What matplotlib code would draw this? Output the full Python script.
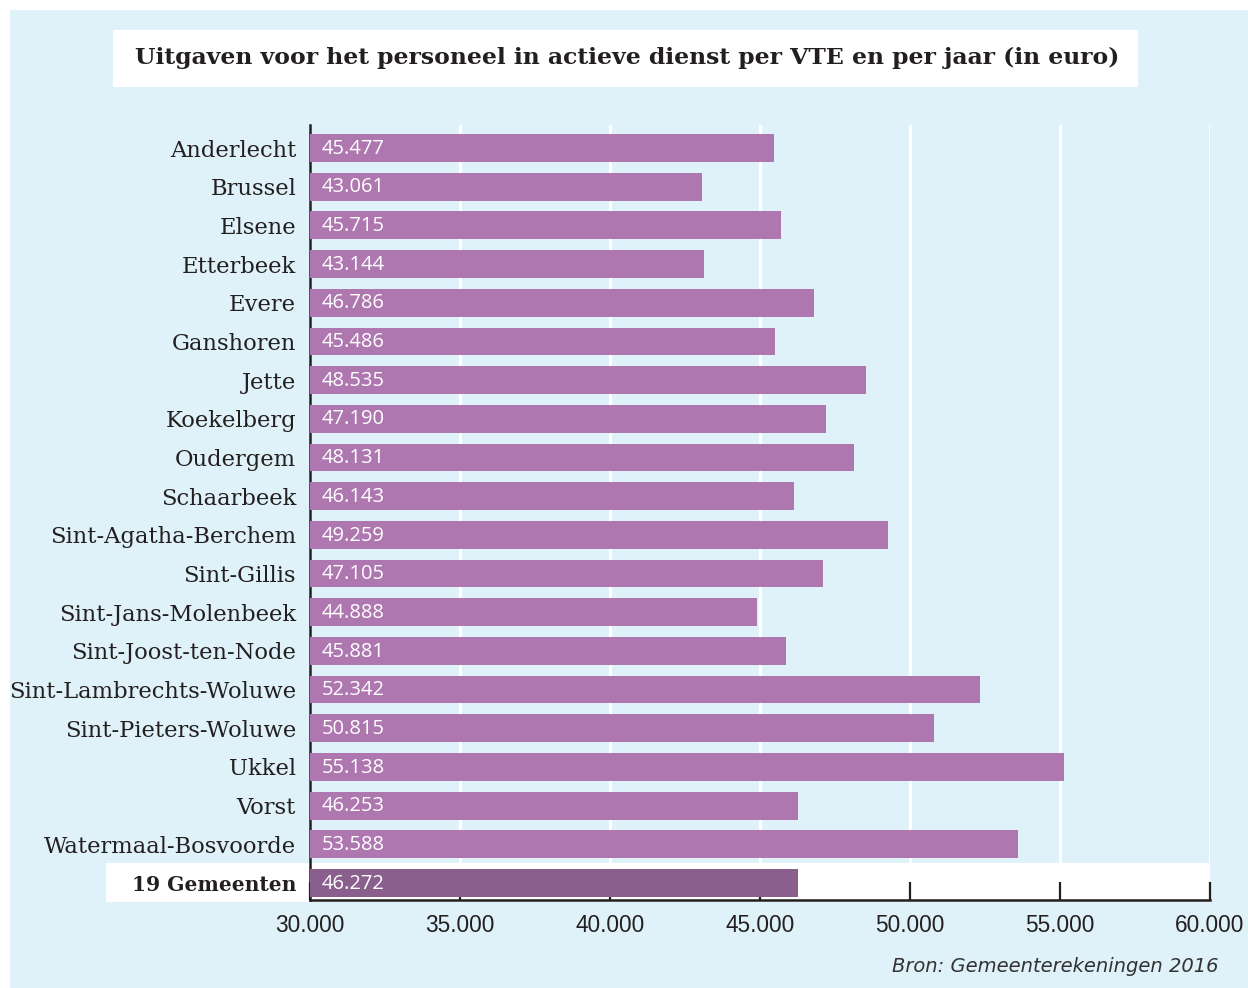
import matplotlib.pyplot as plt
from matplotlib.patches import Rectangle

gemeenten = ["Anderlecht", "Brussel", "Elsene", "Etterbeek", "Evere", "Ganshoren",
             "Jette", "Koekelberg", "Oudergem", "Schaarbeek", "Sint-Agatha-Berchem",
             "Sint-Gillis", "Sint-Jans-Molenbeek", "Sint-Joost-ten-Node",
             "Sint-Lambrechts-Woluwe", "Sint-Pieters-Woluwe", "Ukkel", "Vorst",
             "Watermaal-Bosvoorde", "19 Gemeenten"]
uitgaven = [45477, 43061, 45715, 43144, 46786, 45486, 48535, 47190, 48131, 46143,
            49259, 47105, 44888, 45881, 52342, 50815, 55138, 46253, 53588, 46272]
xticks = [30000, 35000, 40000, 45000, 50000, 55000, 60000]

W, H = 1248, 988
blue = "#dff1f9"
paars = "#ae77b0"
paars_donker = "#8a5f8e"
serif = "DejaVu Serif"
sans = "Open Sans"

fig = plt.figure(figsize=(W / 100, H / 100), dpi=100)
fig.patch.set_facecolor("white")

# lichtblauw paneel
fig.patches.append(Rectangle((10 / W, 0), 1 - 10 / W, 1 - 10 / H, transform=fig.transFigure,
                             facecolor=blue, edgecolor="none", zorder=-2))
# titel kader
fig.patches.append(Rectangle((113 / W, 1 - 87 / H), (1138 - 113) / W, 57 / H,
                             transform=fig.transFigure, facecolor="white",
                             edgecolor="none", zorder=-1))
fig.text(627 / W, 1 - 58 / H,
         "Uitgaven voor het personeel in actieve dienst per VTE en per jaar (in euro)",
         ha="center", va="center", fontsize=16.9, fontweight="bold", family=serif,
         color="#231f20", zorder=2)

ax = fig.add_axes([310 / W, 1 - 900 / H, 900 / W, 775 / H])
ax.set_facecolor("none")

n = len(gemeenten)
ypos = list(range(n))
kleuren = [paars] * (n - 1) + [paars_donker]

# witte band voor het gemiddelde
ax.add_patch(Rectangle((-(310 - 106) / 900, n - 1 - 0.52), 1 + (310 - 106) / 900, 1.0,
                       transform=ax.get_yaxis_transform(), facecolor="white",
                       edgecolor="none", clip_on=False, zorder=0.5))

ax.barh(ypos, [v - 30000 for v in uitgaven], left=30000, height=0.72,
        color=kleuren, zorder=3)

for y, v in zip(ypos, uitgaven):
    ax.annotate(f"{v:,}".replace(",", "."), xy=(30000, y), xytext=(8.5, -0.5),
                textcoords="offset points", ha="left", va="center",
                color="white", fontsize=14.5, family=sans, zorder=4)

ax.set_xlim(30000, 60000)
ax.set_ylim(n - 1 + 0.44, -0.595)

ax.set_xticks(xticks)
ax.set_xticklabels([f"{t:,}".replace(",", ".") for t in xticks],
                   fontsize=16.3, family="Liberation Sans", color="#231f20")
ax.tick_params(axis="x", direction="in", length=13, width=1.6, pad=10, color="#231f20")
ax.set_yticks(ypos)
ax.set_yticklabels(gemeenten, fontsize=16.3, family=serif, color="#231f20")
laatste = ax.get_yticklabels()[-1]
laatste.set_fontweight("bold")
laatste.set_fontsize(14.6)
ax.tick_params(axis="y", length=0, pad=10)

ax.grid(axis="x", color="white", linewidth=2.2, zorder=1)
ax.set_axisbelow(True)
for s in ["top", "right"]:
    ax.spines[s].set_visible(False)
for s in ["left", "bottom"]:
    ax.spines[s].set_color("#231f20")
    ax.spines[s].set_linewidth(1.8)
    ax.spines[s].set_zorder(2)

fig.text(1218 / W, 1 - 966 / H, "Bron: Gemeenterekeningen 2016", ha="right", va="center",
         fontsize=14, style="italic", family="DejaVu Sans", color="#333333")

fig.savefig("out.png", dpi=100, facecolor=fig.get_facecolor())
